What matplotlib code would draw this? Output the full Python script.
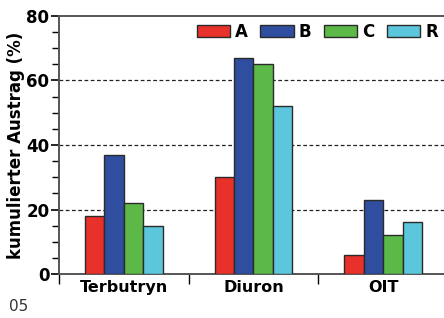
import matplotlib.pyplot as plt
import numpy as np
from matplotlib.ticker import MultipleLocator

categories = ["Terbutryn", "Diuron", "OIT"]
series = ["A", "B", "C", "R"]
values_a = [18, 30, 6]
values_b = [37, 67, 23]
values_c = [22, 65, 12]
values_r = [15, 52, 16]
colors = ["#e8312a", "#2f4e9f", "#5cb947", "#5cc7dc"]

fig = plt.figure(figsize=(4.44, 3.18), dpi=100)
ax = fig.add_axes([0.133, 0.138, 0.867, 0.812])

x = np.arange(len(categories))
width = 0.15
for i, (name, vals) in enumerate(zip(series, [values_a, values_b, values_c, values_r])):
    ax.bar(x + (i - 1.5) * width, vals, width, color=colors[i], edgecolor="#2a2a2a",
           linewidth=1.0, label=name, zorder=3)

ax.set_xlim(-0.5, 2.47)
ax.set_ylim(0, 80)
ax.yaxis.set_major_locator(MultipleLocator(20))
ax.yaxis.set_minor_locator(MultipleLocator(5))
ax.set_xticks(x)
ax.set_xticklabels(categories, fontweight="bold", fontsize=11.5)
ax.set_xticks([-0.5, 0.5, 1.5], minor=True)
ax.tick_params(axis="x", which="major", length=0, pad=4)
ax.tick_params(axis="x", which="minor", length=7, width=1, direction="out")
ax.tick_params(axis="y", which="major", length=6, width=1.2, labelsize=12, pad=1)
ax.tick_params(axis="y", which="minor", length=5, width=1)
for lab in ax.get_yticklabels():
    lab.set_fontweight("bold")

for yv in [20, 40, 60]:
    ax.axhline(yv, color="#222222", linestyle=(0, (3, 2)), linewidth=0.9, zorder=1)

ax.spines["right"].set_visible(False)
for s in ["left", "bottom", "top"]:
    ax.spines[s].set_color("#555555")
    ax.spines[s].set_linewidth(1.4)

ax.set_ylabel("kumulierter Austrag (%)", fontweight="bold", fontsize=12, labelpad=1)

leg = ax.legend(loc="center right", ncol=4, frameon=False, bbox_to_anchor=(0.984, 0.938),
                borderaxespad=0, borderpad=0,
                handlelength=2.0, handleheight=0.7, columnspacing=0.75, handletextpad=0.3,
                prop={"weight": "bold", "size": 12})

fig.text(0.02, 0.022, "05", fontsize=11, color="#333333")

fig.savefig("out.png", dpi=100)
